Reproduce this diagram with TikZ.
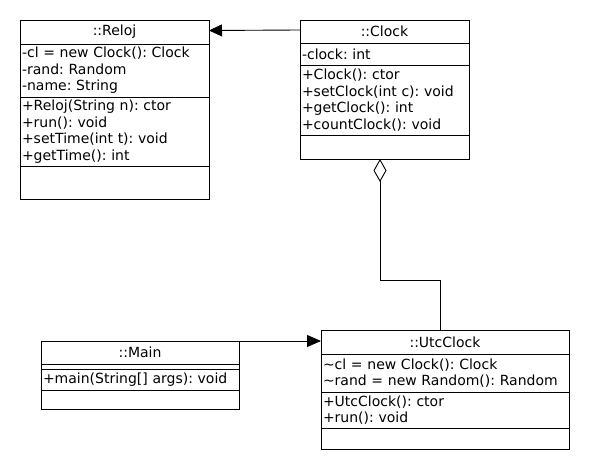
\documentclass[tikz,border=0pt]{standalone}
\usepackage{fontspec}
\setmainfont{DejaVu Sans}
\usetikzlibrary{positioning,arrows.meta}
\frenchspacing

\tikzset{
  box/.style={draw, line width=0.9pt, outer sep=0pt, inner xsep=2pt, inner ysep=0pt,
    font=\fontsize{14}{16.5}\selectfont},
  clsname/.style={box, align=center, text width=#1},
  clspart/.style={box, align=left, text width=#1},
  link/.style={line width=0.9pt},
}

\begin{document}
\begin{tikzpicture}[x=1pt,y=-1pt]
  \fill[white] (0,0) rectangle (590,470);
  % class Reloj
  \node[clsname=185pt, minimum height=24pt, anchor=north] (relojName) at (114.5,20) {::Reloj};
  \node[clspart=185pt, minimum height=53pt, below=0pt of relojName] (relojAttr)
    {-cl = new Clock(): Clock\\-rand: Random\\-name: String};
  \node[clspart=185pt, minimum height=69pt, below=0pt of relojAttr] (relojOps)
    {+Reloj(String n): ctor\\+run(): void\\+setTime(int t): void\\+getTime(): int};
  \node[clspart=185pt, minimum height=33pt, below=0pt of relojOps] (relojEnd) {};
  % class Clock
  \node[clsname=165pt, minimum height=23pt, anchor=north] (clockName) at (384.5,20) {::Clock};
  \node[clspart=165pt, minimum height=22pt, below=0pt of clockName] (clockAttr) {-clock: int};
  \node[clspart=165pt, minimum height=70pt, below=0pt of clockAttr] (clockOps)
    {+Clock(): ctor\\+setClock(int c): void\\+getClock(): int\\+countClock(): void};
  \node[clspart=165pt, minimum height=24pt, below=0pt of clockOps] (clockEnd) {};
  % class Main
  \node[clsname=194pt, minimum height=23pt, anchor=north] (mainName) at (140,341) {::Main};
  \node[clspart=194pt, minimum height=5pt, below=0pt of mainName] (mainAttr) {};
  \node[clspart=194pt, minimum height=21pt, below=0pt of mainAttr] (mainOps)
    {+main(String[] args): void};
  \node[clspart=194pt, minimum height=19pt, below=0pt of mainOps] (mainEnd) {};
  % class UtcClock
  \node[clsname=244pt, minimum height=24pt, anchor=north] (utcName) at (445,330) {::UtcClock};
  \node[clspart=244pt, minimum height=38pt, below=0pt of utcName] (utcAttr)
    {\textasciitilde cl = new Clock(): Clock\\\textasciitilde rand = new Random(): Random};
  \node[clspart=244pt, minimum height=36pt, below=0pt of utcAttr] (utcOps)
    {+UtcClock(): ctor\\+run(): void};
  \node[clspart=244pt, minimum height=21pt, below=0pt of utcOps] (utcEnd) {};
  % relations
  \draw[link, -{Triangle[length=13pt,width=12pt]}] ([yshift=1.5pt]clockName.west) -- ([yshift=1.5pt]relojName.east);
  \draw[link, -{Triangle[length=14pt,width=12pt]}] (mainName.north east) -- (mainName.north east -| utcName.west);
  \coordinate (bendA) at (380,280);
  \coordinate (bendB) at (440,280);
  \draw[link, {Diamond[open,length=23pt,width=13pt]}-] (clockEnd.south -| bendA) -- (bendA) -- (bendB) -- (utcName.north -| bendB);
\end{tikzpicture}
\end{document}
